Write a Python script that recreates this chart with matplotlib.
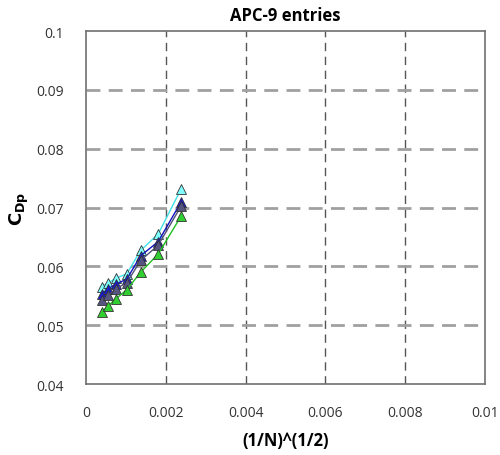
import matplotlib
matplotlib.use("Agg")
import matplotlib.pyplot as plt

x = [0.00039, 0.00056, 0.00075, 0.00102, 0.00137, 0.00181, 0.00238]
cyan = [0.0565, 0.0572, 0.0580, 0.0587, 0.0627, 0.0655, 0.0731]
blue = [0.0553, 0.0562, 0.0570, 0.0578, 0.0618, 0.0642, 0.0709]
slate = [0.0542, 0.0551, 0.0562, 0.0572, 0.0610, 0.0636, 0.0702]
green = [0.0522, 0.0533, 0.0545, 0.0560, 0.0590, 0.0621, 0.0685]

xticks = [0, 0.002, 0.004, 0.006, 0.008, 0.01]
xticklabels = ["0", "0.002", "0.004", "0.006", "0.008", "0.01"]
yticks = [0.04, 0.05, 0.06, 0.07, 0.08, 0.09, 0.1]
yticklabels = ["0.04", "0.05", "0.06", "0.07", "0.08", "0.09", "0.1"]

plt.rcParams['font.family'] = ['Open Sans', 'DejaVu Sans']

fig = plt.figure(figsize=(5, 4.56), dpi=100)
ax = fig.add_axes([0.172, 0.1557, 0.798, 0.7741])

ax.set_xlim(0, 0.01)
ax.set_ylim(0.04, 0.1)

for xv in xticks[1:-1]:
    ax.axvline(xv, color='#555555', lw=1.0, ls=(0, (6, 4)), zorder=0)
for yv in yticks[1:-1]:
    ax.axhline(yv, color='#a0a0a0', lw=2.0, ls=(0, (5, 3)), zorder=0)

series = [
    (cyan, '#40e0e8', '#7fffff'),
    (blue, '#1010c0', '#1a1acc'),
    (slate, '#505078', '#555580'),
    (green, '#20c020', '#30d030'),
]
for ys, lc, fc in series:
    ax.plot(x, ys, color=lc, lw=1.0, marker='^', markersize=7,
            markerfacecolor=fc, markeredgecolor='#333333', markeredgewidth=0.6, zorder=3)

ax.set_xticks(xticks)
ax.set_xticklabels(xticklabels)
ax.set_yticks(yticks)
ax.set_yticklabels(yticklabels)
ax.tick_params(axis='x', length=0, labelsize=10, colors='#333333', pad=15)
ax.tick_params(axis='y', length=0, labelsize=10, colors='#333333', pad=16)
for s in ax.spines.values():
    s.set_color('#707070')
    s.set_linewidth(1.2)

ax.set_title('APC-9 entries', fontsize=12, fontweight='bold', pad=8)
ax.set_xlabel('(1/N)^(1/2)', fontsize=12, fontweight='bold', labelpad=8)
ax.set_ylabel(r'$\mathbf{C_{Dp}}$', fontsize=13, labelpad=4)

fig.savefig('out.png', dpi=100)
